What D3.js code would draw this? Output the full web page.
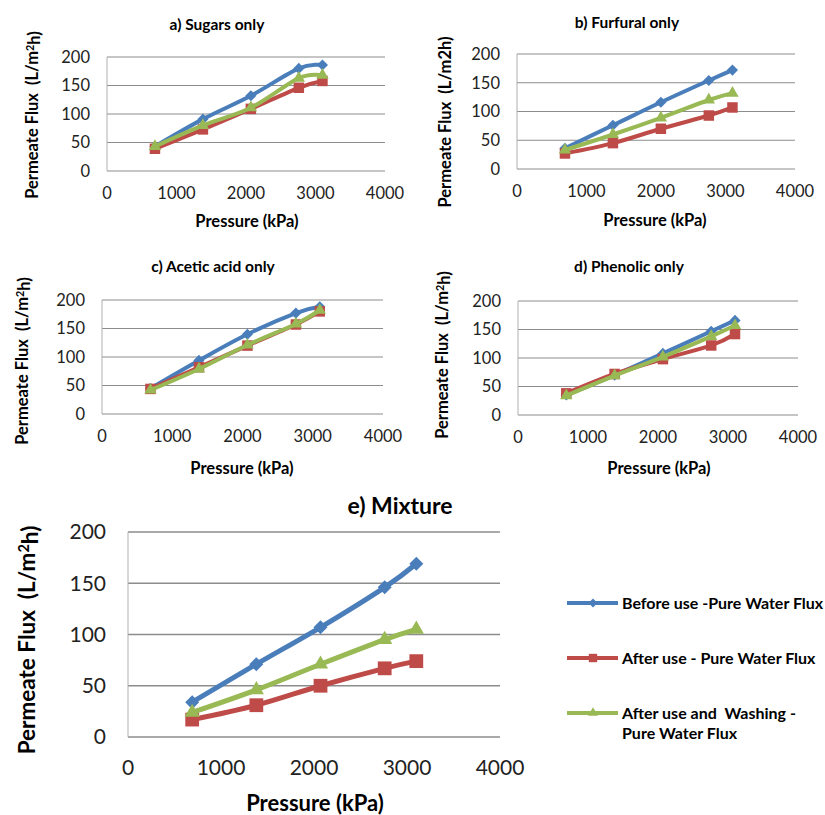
<!DOCTYPE html>
<html>
<head>
<meta charset="utf-8">
<script src="https://cdn.jsdelivr.net/npm/d3@7"></script>
<style>
  body { margin: 0; background: #fff; }
  svg { font-family: Lato, 'Open Sans', sans-serif; }
</style>
</head>
<body>
<svg id="chart" width="825" height="815"></svg>
<script>
// pressure in kPa, same for every panel
const pressure = [690, 1380, 2070, 2760, 3100]
const xTicks = [0, 1000, 2000, 3000, 4000]
const yTicks = [0, 50, 100, 150, 200]

const seriesNames = ['Before use -Pure Water Flux', 'After use - Pure Water Flux', 'After use and  Washing -']
const seriesColors = ['#4a7ebb', '#be4b48', '#98b954']
const seriesShapes = ['diamond', 'square', 'triangle']

const sugarsBefore = [43, 91, 132, 180, 186]
const sugarsAfter = [39, 73, 109, 146, 158]
const sugarsWashed = [43, 80, 111, 163, 168]

const furfuralBefore = [36, 76, 116, 154, 172]
const furfuralAfter = [27, 45, 70, 93, 107]
const furfuralWashed = [33, 60, 89, 120, 132]

const aceticBefore = [45, 94, 140, 177, 188]
const aceticAfter = [44, 82, 120, 157, 180]
const aceticWashed = [42, 79, 121, 158, 182]

const phenolicBefore = [35, 70, 108, 147, 166]
const phenolicAfter = [38, 72, 98, 122, 142]
const phenolicWashed = [34, 69, 102, 138, 157]

const mixtureBefore = [34, 71, 107, 146, 169]
const mixtureAfter = [17, 31, 50, 67, 74]
const mixtureWashed = [24, 46, 71, 95, 105]

const svg = d3.select('#chart')

// layout of each panel (plot rectangle + text spots)
const panels = [
  {title: 'a) Sugars only', data: [sugarsBefore, sugarsAfter, sugarsWashed], sup: true,
    l: 107, r: 385, t: 57, b: 171, tx: 217, ty: 25, yx: 32, yy: 115, px: 247, py: 221, big: false},
  {title: 'b) Furfural only', data: [furfuralBefore, furfuralAfter, furfuralWashed], sup: false,
    l: 517, r: 795, t: 54, b: 169, tx: 627, ty: 23, yx: 445, yy: 122, px: 655, py: 220, big: false},
  {title: 'c) Acetic acid only', data: [aceticBefore, aceticAfter, aceticWashed], sup: true,
    l: 102, r: 383, t: 300, b: 414, tx: 213, ty: 267, yx: 22, yy: 361, px: 242, py: 468, big: false},
  {title: 'd) Phenolic only', data: [phenolicBefore, phenolicAfter, phenolicWashed], sup: true,
    l: 518, r: 798, t: 301, b: 415, tx: 629, ty: 267, yx: 442, yy: 355, px: 659, py: 468, big: false},
  {title: 'e) Mixture', data: [mixtureBefore, mixtureAfter, mixtureWashed], sup: true,
    l: 128, r: 500, t: 532, b: 737, tx: 400, ty: 506, yx: 27, yy: 640, px: 315, py: 803, big: true}
]

function marker (shape, big) {
  if (shape === 'diamond') return {d: d3.symbol(d3.symbolSquare, big ? 98 : 62)(), rot: 45}
  if (shape === 'square') return {d: d3.symbol(d3.symbolSquare, big ? 190 : 110)(), rot: 0}
  return {d: d3.symbol(d3.symbolTriangle, big ? 100 : 66)(), rot: 0}
}

for (let p of panels) {
  const x = d3.scaleLinear().domain([0, 4000]).range([p.l, p.r])
  const y = d3.scaleLinear().domain([0, 200]).range([p.b, p.t])
  const g = svg.append('g')
  const tickSize = p.big ? 21 : 16.5

  // gridlines
  g.selectAll('.grid').data(yTicks).enter().append('line')
    .attr('x1', p.l).attr('x2', p.r)
    .attr('y1', d => y(d)).attr('y2', d => y(d))
    .attr('stroke', '#8c8c8c').attr('stroke-width', p.big ? 1.5 : 1)
  g.append('line').attr('x1', p.l).attr('x2', p.l).attr('y1', p.t).attr('y2', p.b)
    .attr('stroke', '#b0b0b0').attr('stroke-width', 1)

  // y tick labels
  g.selectAll('.yl').data(yTicks).enter().append('text')
    .attr('x', p.l - (p.big ? 22 : 17)).attr('y', d => y(d))
    .attr('dy', '0.35em').attr('text-anchor', 'end')
    .style('font-size', tickSize + 'px').style('fill', '#222')
    .text(d => d)
  // x tick labels
  g.selectAll('.xl').data(xTicks).enter().append('text')
    .attr('x', d => x(d)).attr('y', p.b + (p.big ? 31 : 22))
    .attr('dy', '0.35em').attr('text-anchor', 'middle')
    .style('font-size', tickSize + 'px').style('fill', '#222')
    .text(d => d)

  // titles
  g.append('text').attr('x', p.tx).attr('y', p.ty).attr('dy', '0.35em')
    .attr('text-anchor', 'middle').style('font-weight', 'bold')
    .style('font-size', (p.big ? 23 : 15.5) + 'px').text(p.title)
  g.append('text').attr('x', p.px).attr('y', p.py).attr('dy', '0.35em')
    .attr('text-anchor', 'middle').style('font-weight', 'bold')
    .style('font-size', (p.big ? 22 : 16.5) + 'px').text('Pressure (kPa)')
  let yt = g.append('text')
    .attr('transform', 'translate(' + p.yx + ',' + p.yy + ') rotate(-90)')
    .attr('dy', '0.35em').attr('text-anchor', 'middle').style('font-weight', 'bold')
    .style('font-size', (p.big ? 22.5 : 16.5) + 'px').attr('xml:space', 'preserve')
  if (p.sup) {
    yt.append('tspan').text('Permeate Flux  (L/m')
    yt.append('tspan').attr('dy', '-0.4em').style('font-size', '0.65em').text('2')
    yt.append('tspan').attr('dy', '0.4em').text('h)')
  } else {
    yt.text('Permeate Flux  (L/m2h)')
  }

  // series
  const line = d3.line().x(d => x(d[0])).y(d => y(d[1])).curve(d3.curveCatmullRom.alpha(0))
  p.data.forEach((vals, i) => {
    const pts = pressure.map((pr, j) => [pr, vals[j]])
    g.append('path').datum(pts).attr('d', line)
      .attr('fill', 'none').attr('stroke', seriesColors[i])
      .attr('stroke-width', p.big ? 5 : 4).attr('stroke-linejoin', 'round')
    const m = marker(seriesShapes[i], p.big)
    g.selectAll('.m' + i).data(pts).enter().append('path')
      .attr('d', m.d)
      .attr('transform', d => 'translate(' + x(d[0]) + ',' + y(d[1]) + ') rotate(' + m.rot + ')')
      .attr('fill', seriesColors[i])
  })
}

// legend for the mixture panel
const legendY = [603, 658, 713]
const lg = svg.append('g')
seriesNames.forEach((name, i) => {
  lg.append('line').attr('x1', 567).attr('x2', 618).attr('y1', legendY[i]).attr('y2', legendY[i])
    .attr('stroke', seriesColors[i]).attr('stroke-width', 4)
  const m = marker(seriesShapes[i], false)
  lg.append('path').attr('d', m.d)
    .attr('transform', 'translate(593,' + legendY[i] + ') rotate(' + m.rot + ') scale(0.8)')
    .attr('fill', seriesColors[i])
  lg.append('text').attr('x', 622).attr('y', legendY[i]).attr('dy', '0.35em')
    .style('font-weight', 'bold').style('font-size', '16px').attr('xml:space', 'preserve')
    .text(name)
})
lg.append('text').attr('x', 622).attr('y', 733).attr('dy', '0.35em')
  .style('font-weight', 'bold').style('font-size', '16px').text('Pure Water Flux')
</script>
</body>
</html>
